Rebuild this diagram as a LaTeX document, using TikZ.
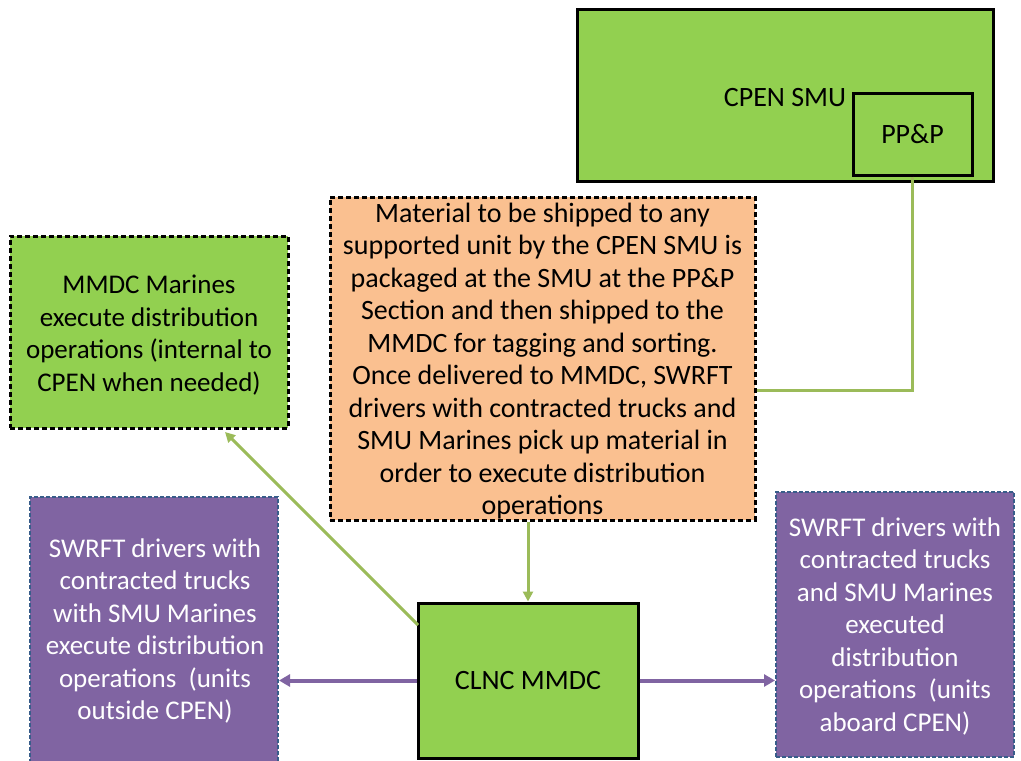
\documentclass[tikz,border=0pt]{standalone}
\usepackage{fontspec}
\setmainfont{Carlito}
\usetikzlibrary{arrows.meta}
\definecolor{gfill}{HTML}{92D050}
\definecolor{gline}{HTML}{9BBB59}
\definecolor{ofill}{HTML}{FAC090}
\definecolor{pfill}{HTML}{8064A2}
\definecolor{pborder}{HTML}{385D8A}
\tikzset{
  txt/.style={font=\fontsize{27}{32.5}\selectfont, align=center, inner sep=0pt},
  bigtxt/.style={font=\fontsize{28}{32.5}\selectfont, align=center, inner sep=0pt},
  solidbox/.style={draw=black, line width=3pt, fill=gfill},
  dashbox/.style={draw=black, line width=3pt, dash pattern=on 5pt off 3pt},
  purplebox/.style={draw=pborder, line width=2pt, dash pattern=on 4pt off 2pt, fill=pfill},
  greenarrow/.style={draw=gline, line width=3pt, -{Triangle[length=10pt,width=10pt]}},
  greenline/.style={draw=gline, line width=3pt},
  purplearrow/.style={draw=pfill, line width=4pt, -{Triangle[length=11pt,width=12pt]}},
}
\begin{document}
\begin{tikzpicture}[x=1pt,y=-1pt]
\useasboundingbox (0,0) rectangle (1021,761);
\clip (0,0) rectangle (1021,761);
\fill[white] (0,0) rectangle (1021,761);
% CPEN SMU
\node[solidbox, minimum width=416pt, minimum height=172pt, inner sep=0pt] (smu) at (785,95) {};
\node[bigtxt] (smutxt) at (785,98) {CPEN SMU};
\node[solidbox, minimum width=119pt, minimum height=82pt, inner sep=0pt, font=\fontsize{28}{32.5}\selectfont] (ppp) at (912.5,134) {PP\&P};
% Orange
\node[dashbox, fill=ofill, minimum width=425pt, minimum height=323pt, inner sep=0pt] (orange) at (542.5,358.5) {};
\node[bigtxt] at (542.5,361) {Material to be shipped to any\\supported unit by the CPEN SMU is\\packaged at the SMU at the PP\&P\\Section and then shipped to the\\MMDC for tagging and sorting.\\Once delivered to MMDC, SWRFT\\drivers with contracted trucks and\\SMU Marines pick up material in\\order to execute distribution\\operations};
% MMDC Marines
\node[dashbox, fill=gfill, minimum width=278pt, minimum height=192pt, inner sep=0pt] (mar) at (149,332) {};
\node[txt] at (149,335) {MMDC Marines\\execute distribution\\operations (internal to\\CPEN when needed)};
% Purple left
\node[purplebox, minimum width=248pt, minimum height=280pt, inner sep=0pt] (pl) at (154,637) {};
\node[txt, text=white] at (155,631) {SWRFT drivers with\\contracted trucks\\with SMU Marines\\execute distribution\\operations~ (units\\outside CPEN)};
% Purple right
\node[purplebox, minimum width=238pt, minimum height=265pt, inner sep=0pt] (pr) at (895,624.5) {};
\node[txt, text=white] at (895,626) {SWRFT drivers with\\contracted trucks\\and SMU Marines\\executed\\distribution\\operations~ (units\\aboard CPEN)};
% CLNC MMDC
\node[solidbox, minimum width=220pt, minimum height=155pt, inner sep=0pt, font=\fontsize{28}{32.5}\selectfont] (clnc) at (528,680.5) {CLNC MMDC};
% connectors
\coordinate (bend) at (ppp.south |- 0,390);
\draw[greenline] (ppp.south) -- (bend) -- (orange.east |- bend);
\draw[greenarrow] (orange.south -| clnc.north) -- (clnc.north);
\coordinate (cl) at (418,625);
\draw[greenarrow] (cl) -- (225,432);
\draw[purplearrow] (clnc.west) -- (pl.east |- clnc.west);
\draw[purplearrow] (clnc.east) -- (pr.west |- clnc.east);
\end{tikzpicture}
\end{document}
